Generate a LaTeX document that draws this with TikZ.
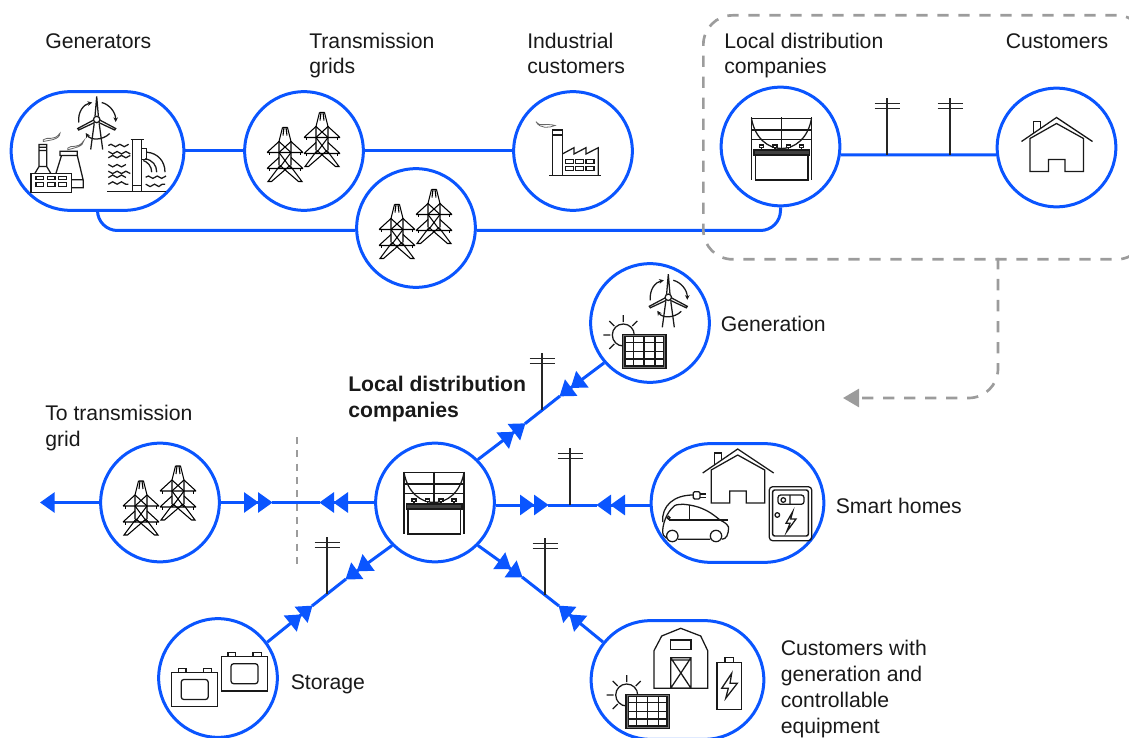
\documentclass[tikz,border=0pt]{standalone}
\usepackage{fontspec}
\setmainfont{Liberation Sans}
\usetikzlibrary{arrows.meta, shapes.misc, decorations.pathmorphing}

\definecolor{wireblue}{HTML}{0A55FF}
\definecolor{dashgrey}{HTML}{9C9C9C}

\tikzset{
  pole/.pic={
    \draw[poleline] (0, 0) -- (0, -57) (-12.5, -51.5) -- (12.5, -51.5) (-12.5, -46.5) -- (12.5, -46.5);
  },
  pylon/.pic={
    \draw[thinicon] (-2.5, 0) -- (2.5, 0) (-2.5, 0) -- (-6, 14) -- (-6, 38) (2.5, 0) -- (6, 14) -- (6, 38) (-1, 0) -- (-2, 8) (1, 0) -- (2, 8);
    \draw[thinicon] (-18, 25) -- (18, 25) (-18, 25) -- (-6, 14) (18, 25) -- (6, 14);
    \draw[thinicon] (-18, 41) -- (18, 41) (-18, 41) -- (-6, 30) (18, 41) -- (6, 30);
    \draw[thinicon] (-15.5, 25) -- (-15.5, 28) (15.5, 25) -- (15.5, 28) (-15.5, 41) -- (-15.5, 44) (15.5, 41) -- (15.5, 44);
    \draw[thinicon] (-6, 14) -- (6, 25) (6, 14) -- (-6, 25) (-6, 25) -- (6, 41) (6, 25) -- (-6, 41);
    \draw[thinicon] (-5, 38) -- (-17, 54) -- (-13.5, 54) -- (5, 38) (5, 38) -- (17, 54) -- (13.5, 54) -- (-5, 38);
  },
  pylons/.pic={
    \draw (-19, -23.5) pic {pylon};
    \draw (18, -38.5) pic {pylon};
  },
  substation/.pic={
    \draw[icon] (-29, -29) -- (-29, 33.5) (31, -29) -- (31, 33.5) (1, -29) -- (1, 3.5);
    \draw[icon] (-29, -28) -- (31, -28) (-29, -16.5) -- (31, -16.5) (-29, -7) -- (31, -7);
    \draw[icon] (-29, -28) .. controls (-22, 12) and (24, 12) .. (31, -28);
    \draw[icon, fill=white] (-21, -1.5) rectangle (-17, 1) (-7.5, -1.5) rectangle (-3.5, 1) (6, -1.5) rectangle (10, 1) (19, -1.5) rectangle (23, 1);
    \draw[icon] (-19, 1) -- (-19, 3.5) (-5.5, 1) -- (-5.5, 3.5) (8, 1) -- (8, 3.5) (21, 1) -- (21, 3.5);
    \draw[icon, fill=black!75] (-26.5, 3.5) rectangle (29, 8.5);
    \draw[icon] (-25, 8.5) rectangle (27.5, 33.5);
  },
  house/.pic={
    \draw[icon] (-35, -6) -- (0, -30) -- (36, -6);
    \draw[icon] (-23, -14.2) -- (-23, -26) -- (-16, -26) -- (-16, -19);
    \draw[icon] (-26.5, -9) -- (-26.5, 24) -- (-8, 24) -- (-8, 12) -- (8.5, 12) -- (8.5, 24) -- (27, 24) -- (27, -9) -- (0, -24) -- cycle;
  },
  turbine/.pic={
    \draw[icon, -{Stealth[length=3.5pt, width=3.5pt]}] (-18, 3) .. controls (-19, -8) and (-13, -15) .. (-4.5, -17);
    \draw[icon, -{Stealth[length=3.5pt, width=3.5pt]}] (5, -17) .. controls (13, -15) and (19, -7) .. (19, 2.5);
    \draw[icon, -{Stealth[length=3.5pt, width=3.5pt]}] (13, 14) .. controls (6, 21) and (-6, 21) .. (-11, 13.5);
    \draw[icon] (-2.5, 4) -- (-6, 30) (2.5, 4) -- (6, 30);
    \draw[icon] (-1.7, -3) -- (0, -23) -- (1.7, -3) (-3, 0.5) -- (-19, 9) -- (-18, 10.5) -- (-2, 3) (3, 0.5) -- (19, 9) -- (18, 10.5) -- (2, 3);
    \draw[icon, fill=white] (0, 0) circle (3.2);
  },
  sunpanel/.pic={
    \draw[icon] (0, 0) circle (11);
    \draw[icon] (0, -20) -- (0, -13) (-14, -14) -- (-9, -9) (14, -14) -- (9, -9) (-20, 0) -- (-13, 0) (-14, 14) -- (-9, 9);
    \draw[icon, fill=black!55] (-0.7, -0.7) rectangle (42.7, 33.3);
    \draw[icon, fill=white] (1.7, 1.7) rectangle (40.3, 31);
    \draw[icon] (10, 1.7) -- (10, 31) (20.7, 1.7) -- (20.7, 31) (31.7, 1.7) -- (31.7, 31) (1.7, 7.3) -- (40.3, 7.3) (1.7, 16.7) -- (40.3, 16.7) (1.7, 24) -- (40.3, 24);
  },
  cell/.pic={
    \draw[icon] (-22.9, -17.2) rectangle (22.9, 17.2);
    \draw[icon, rounded corners=2pt] (-13.5, -10) rectangle (13.5, 10);
    \draw[icon] (-16.4, -17.2) -- (-16.4, -21.2) -- (-8.7, -21.2) -- (-8.7, -17.2) (8.6, -17.2) -- (8.6, -21.2) -- (17, -21.2) -- (17, -17.2);
  },
  plants/.pic={
    \draw[icon] (-66.5, 22.2) rectangle (-25.8, 41.2);
    \draw[icon] (-61.5, 25.5) rectangle (-54.2, 28.8) (-50.2, 25.5) rectangle (-42.5, 28.8) (-38.8, 25.5) rectangle (-31.2, 28.8);
    \draw[icon] (-61.5, 31.8) rectangle (-54.2, 35.2) (-50.2, 31.8) rectangle (-42.5, 35.2) (-38.8, 31.8) rectangle (-31.2, 35.2);
    \draw[icon] (-62.5, 22.2) -- (-58.5, 15.5) -- (-58.5, -6.5) -- (-50.8, -6.5) -- (-50.8, 15.5) -- (-46.8, 22.2) (-58.5, -3.8) -- (-50.8, -3.8) (-58.5, -0.5) -- (-50.8, -0.5) (-59, 15.5) -- (-50.3, 15.5);
    \draw[icon] (-41.5, 22.2) -- (-36, 4.5) -- (-37.5, 4.5) -- (-37.5, 0.2) -- (-20.2, 0.2) -- (-20.2, 4.5) -- (-14.2, 29.5) -- (-14.2, 36.8) -- (-25.8, 36.8) (-36, 4.5) -- (-20.2, 4.5) (-25.8, 28.8) -- (-14.2, 28.8);
    \draw[smoke] (-54.2, -11.2) .. controls (-50, -15) and (-44, -9) .. (-37.5, -17.8) .. controls (-38, -11) and (-48, -11) .. (-54.2, -9.5) -- cycle;
    \draw[smoke] (-29.8, -2.8) .. controls (-26, -7) and (-20, -1) .. (-13.5, -10.5) .. controls (-14, -4) and (-24, -3) .. (-29.8, -1.2) -- cycle;
    \draw[ripple] (10.8, -5.5) -- ++(20, 0) (10.8, 0.5) -- ++(20, 0) (10.8, 6.8) -- ++(20, 0) (10.8, 13.5) -- ++(20, 0) (10.8, 20.2) -- ++(20, 0) (10.8, 26.5) -- ++(20, 0) (10.8, 33.2) -- ++(20, 0);
    \draw[ripple] (48.2, 26.2) -- ++(19.5, 0) (48.2, 33.2) -- ++(19.5, 0);
    \draw[icon] (34.8, 40.2) -- (34.8, -11.5) (44.2, 40.2) -- (44.2, -11.5) (33, -11.5) -- (46, -11.5) (34.8, 34.5) -- (44.2, 34.5);
    \draw[icon] (44.2, -2.2) -- (49.2, -2.2) -- (49.2, 8.8) -- (44.2, 8.8);
    \draw[icon] (49.2, 1.2) .. controls (60, 2) and (67.5, 10) .. (67.5, 21.2) (47.5, 7.8) .. controls (55, 9) and (59.2, 14) .. (59.2, 21.2) (45.8, 9.5) .. controls (50, 11) and (54.2, 15) .. (54.2, 21.2);
    \draw[icon] (9.8, 40.2) -- (68.2, 40.2);
    \draw (-0.8, -31.5) pic {turbine};
  },
  factory/.pic={
    \draw[icon] (-24, 24.7) -- (28, 24.7);
    \draw[icon] (-20.7, 24.7) -- (-20.7, -21) -- (-10.7, -21) -- (-10.7, 24.7) (-20.7, -16) -- (-10.7, -16);
    \draw[icon] (-10.7, 3) -- (1, -3.3) -- (1, 3) -- (13, -3.3) -- (13, 3) -- (25.3, -3.3) -- (25.3, 24.7);
    \draw[icon] (-7.3, 8.3) rectangle (0.3, 12.3) (2.7, 8.3) rectangle (10.3, 12.3) (13, 8.3) rectangle (21, 12.3);
    \draw[icon] (-7.3, 15.7) rectangle (0.3, 19.7) (2.7, 15.7) rectangle (10.3, 19.7) (13, 15.7) rectangle (21, 19.7);
    \draw[smoke] (-37, -29.3) .. controls (-35, -24) and (-26, -28) .. (-18, -25.5) .. controls (-24, -23) and (-33, -22) .. (-37, -29.3) -- cycle;
  },
  car/.pic={
    \draw[icon] (-65.2, 33) circle (5.7) (-21.5, 33) circle (5.7);
    \draw[icon] (-59.5, 36.3) -- (-27.2, 36.3) (-15.8, 36.3) .. controls (-11, 36) and (-9, 32) .. (-9, 24) .. controls (-11, 20) and (-14, 19) .. (-17.5, 17) .. controls (-25, 11) and (-34, 3) .. (-54, 1.3) .. controls (-60, 1.3) and (-63, 2) .. (-64, 3.7) .. controls (-70, 9) and (-74, 18) .. (-74.8, 27) .. controls (-75, 31) and (-74, 34) .. (-71, 35.3);
    \draw[icon] (-69, 17) -- (-10, 17) (-48, 2) -- (-48, 17);
    \draw[icon] (-44.2, -8) .. controls (-64, -8) and (-76, 3) .. (-74.8, 19);
    \draw[icon] (-69, 14.7) circle (1.5);
    \draw[icon, rounded corners=1pt] (-44.2, -11.3) rectangle (-37.5, -4);
    \draw[icon] (-37.5, -9) -- (-31.5, -9) (-37.5, -5.7) -- (-31.5, -5.7);
  },
  meterbox/.pic={
    \draw[icon, rounded corners=2.5pt] (31.8, -16.3) rectangle (74.2, 37.7);
    \draw[icon, line width=1.1pt, rounded corners=1.5pt] (35.2, -13) rectangle (70.8, 33);
    \draw[icon, rounded corners=2pt] (40.5, -8) rectangle (66.5, 1.3);
    \draw[icon] (52.5, -8) -- (52.5, 1.3) (45.8, -3) circle (2.3) (39.8, 12) circle (2.3);
    \draw[icon] (55.2, 8.7) -- (48.5, 20.3) -- (52.5, 20.3) -- (49.2, 28.7) -- (58.5, 16) -- (53.2, 16) -- cycle;
  },
  barn/.pic={
    \draw[icon] (-23.5, 8.3) -- (-23.5, -29.3) -- (-15.8, -44) -- (3.2, -51.7) -- (23.2, -44) -- (30.2, -29.3) -- (30.2, 8.3) -- cycle;
    \draw[icon] (-6.8, -40) rectangle (13.5, -30.7);
    \draw[icon] (-6.8, -22.3) rectangle (13.5, 8.3) (-6.8, -22.3) -- (13.5, 8.3) (13.5, -22.3) -- (-6.8, 8.3) (-6.8, -20) -- (13.5, -20);
    \draw[icon] (39.5, -17.3) rectangle (63.8, 29.3);
    \draw[icon] (47.5, -17.3) -- (47.5, -22.3) -- (55.8, -22.3) -- (55.8, -17.3);
    \draw[icon] (54.2, -6.7) -- (44.2, 8.3) -- (50.8, 8.3) -- (48.2, 18.3) -- (59.8, 3.3) -- (52.5, 3.3) -- cycle;
  },
}

\begin{document}
\begin{tikzpicture}[
    x=.75pt, y=-.75pt,
    hub/.style={circle, draw=wireblue, line width=2.25pt, minimum size=89pt, inner sep=0pt},
    pill/.style={rounded rectangle, draw=wireblue, line width=2.25pt, minimum width=129.5pt, minimum height=89pt, inner sep=0pt},
    wire/.style={draw=wireblue, line width=2.25pt},
    twotips/.style={-{Triangle[length=11pt, width=15pt, sep=-.5pt] Triangle[length=11pt, width=15pt, sep=-.5pt]}},
    onetip/.style={-{Triangle[length=11pt, width=15pt]}},
    dashline/.style={draw=dashgrey, line width=2pt, dash pattern=on 8.5pt off 7.25pt},
    shortdash/.style={draw=dashgrey, line width=2pt, dash pattern=on 5.25pt off 4.75pt},
    lbl/.style={anchor=base west, align=left, inner sep=0pt, text=black!90, font=\fontsize{15.9}{19.4}\selectfont},
    icon/.style={black!90, line width=.95pt, line join=miter},
    thinicon/.style={black, line width=.8pt},
    poleline/.style={black!85, line width=.95pt},
    smoke/.style={black!60, line width=.6pt},
    ripple/.style={icon, decorate, decoration={snake, segment length=6.6pt, amplitude=.9pt}},
]

\useasboundingbox (0, 0) rectangle (1129, 738);

\draw (97.5, 151) node[pill] (gen) {};
\draw (304, 151) node[hub] (grid1) {};
\draw (573, 151) node[hub] (ind) {};
\draw (416, 228) node[hub] (grid2) {};
\draw (780.5, 146.5) node[hub] (ldc) {};
\draw (1056.5, 147.5) node[hub] (cust) {};

\draw (gen.center) pic {plants};
\draw (grid1.center) pic {pylons};
\draw (ind.center) pic {factory};
\draw (grid2.center) pic {pylons};
\draw (ldc.center) pic {substation};
\draw (cust.center) pic {house};

\coordinate (rail) at (0, 230.5);
\coordinate (polea) at (887, 155);
\coordinate (poleb) at (950, 155);

\draw[wire] (gen.east) -- (grid1.west);
\draw[wire] (grid1.east) -- (ind.west);
\draw[wire, rounded corners=15pt] (gen.south) |- (grid2.west|-rail);
\draw[wire, rounded corners=15pt] (grid2.east|-rail) -| (ldc.south);
\draw[wire] (ldc.-8) -- (cust.187);
\draw (polea) pic {pole};
\draw (poleb) pic {pole};

\draw (702, 14) node[dashline, draw, rounded corners=22pt, minimum width=332pt, minimum height=183pt, anchor=north west] (distbox) {};
\coordinate (drop) at (998, 258);
\coordinate (dropend) at (843, 398);
\draw[dashline, rounded corners=22pt, -{Triangle[length=12pt, width=13.5pt]}] (drop) |- (dropend);

\draw (45, 49) node[lbl] (gentxt) {Generators};
\draw (309, 74) node[lbl] (gridtxt) {Transmission\\grids};
\draw (527, 74) node[lbl] (indtxt) {Industrial\\customers};
\draw (724, 74) node[lbl] (ldctxt) {Local distribution\\companies};
\draw (1005.5, 49) node[lbl] (custtxt) {Customers};

\draw (650, 323) node[hub] (genb) {};
\draw (435, 502.5) node[hub] (ldcb) {};
\draw (160, 502.5) node[hub] (trans) {};
\draw (737.5, 503) node[pill] (smart) {};
\draw (218, 678) node[hub] (store) {};
\draw (677.5, 680) node[pill] (flex) {};

\draw (genb.center) ++(18.3, -25.7) pic {turbine};
\draw (genb.center) ++(-26.7, 12) pic {sunpanel};
\draw (ldcb.center) ++(-2, -2) pic {substation};
\draw (trans.center) ++(0, 2) pic {pylons};
\draw (smart.center) ++(.2, -24) pic {house};
\draw (smart.center) pic {car};
\draw (smart.center) pic {meterbox};
\draw (store.center) ++(-23.3, 11.5) pic {cell};
\draw (store.center) ++(26.5, -4.3) pic {cell};
\draw (flex.center) pic {barn};
\draw (flex.center) ++(-50.8, 15) pic {sunpanel};

\coordinate (tipea) at (548, 505);
\coordinate (tipeb) at (597, 505);
\coordinate (tipwa) at (272, 502.5);
\coordinate (tipwb) at (320, 502.5);
\coordinate (tipwc) at (40, 502.5);
\coordinate (tipna) at (525, 423.7);
\coordinate (tipnb) at (560, 396);
\coordinate (tipsa) at (346, 579);
\coordinate (tipsb) at (312, 606);
\coordinate (tipra) at (522, 577);
\coordinate (tiprb) at (559, 606);

\draw[wire, twotips] (ldcb.east|-tipea) -- (tipea);
\draw[wire, twotips] (smart.west|-tipeb) -- (tipeb);
\draw[wire] (tipea) -- (tipeb);
\draw[wire, twotips] (trans.east) -- (tipwa);
\draw[wire, twotips] (ldcb.west) -- (tipwb);
\draw[wire] (tipwa) -- (tipwb);
\draw[wire, onetip] (trans.west) -- (tipwc);
\draw[wire, twotips] (ldcb.45) -- (tipna);
\draw[wire, twotips] (genb.221) -- (tipnb);
\draw[wire] (tipna) -- (tipnb);
\draw[wire, twotips] (ldcb.225) -- (tipsa);
\draw[wire, twotips] (store.36) -- (tipsb);
\draw[wire] (tipsa) -- (tipsb);
\draw[wire, twotips] (ldcb.-45) -- (tipra);
\draw[wire, twotips] (flex.153) -- (tiprb);
\draw[wire] (tipra) -- (tiprb);

\draw (570, 505) pic {pole};
\draw (542, 410) pic {pole};
\draw (327, 594) pic {pole};
\draw (545, 595) pic {pole};

\draw[shortdash] (297, 437) -- (297, 568);

\draw (720.5, 331) node[lbl] (gentxtb) {Generation};
\draw (348, 417) node[lbl, font=\fontsize{15.9}{19.4}\selectfont\bfseries] (ldctxtb) {Local distribution\\companies};
\draw (45, 446) node[lbl] (transtxt) {To transmission\\grid};
\draw (835.5, 513.5) node[lbl] (smarttxt) {Smart homes};
\draw (290.5, 689) node[lbl] (storetxt) {Storage};
\draw (780.5, 733) node[lbl] (flextxt) {Customers with\\generation and\\controllable\\equipment};
\end{tikzpicture}
\end{document}
